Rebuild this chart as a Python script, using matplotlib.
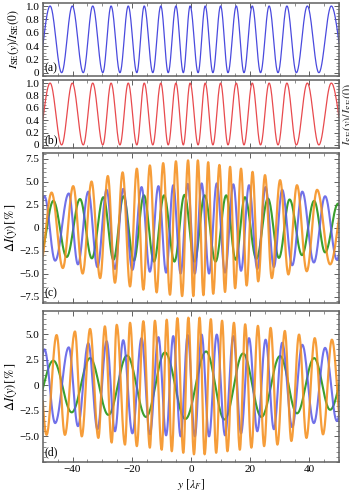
import numpy as np
import matplotlib
matplotlib.use('Agg')
import matplotlib.pyplot as plt
from matplotlib.ticker import MultipleLocator, FixedLocator

# extrema (y in units of lambda_F)
# panels (a) and (b): normalised spin-echo signal, peaks at 1 and troughs at 0
ab_trough_x = [-52.0, -43.7, -36.4, -29.8, -24.0, -18.3, -12.9, -7.7, -2.6, 2.4,
               7.4, 12.5, 17.9, 23.5, 29.4, 35.6, 43.2, 52.3]
ab_peak_x = [-47.6, -40.1, -33.2, -27.0, -21.2, -15.8, -10.2, -5.1, -0.3, 4.8,
             10.0, 15.3, 20.7, 26.4, 32.4, 39.3, 47.4]
ab_top = 1.0
ab_bottom = 0.0

# panel (c), Delta I in %
c_orange_x = [-50.8, -47.1, -43.3, -39.8, -36.6, -33.6, -30.7, -28.1, -25.7, -23.1,
              -20.6, -18.3, -16.1, -13.9, -11.6, -9.4, -7.1, -5.1, -3.0, -1.0,
              0.8, 2.3, 4.2, 5.8, 7.5, 9.6, 11.5, 13.2, 14.9, 16.9,
              18.8, 20.8, 22.7, 25.0, 27.3, 30.1, 32.9, 35.8, 39.1, 42.6, 47.0, 51.7]
c_orange_v = [-3.8, 3.8, -4.4, 4.5, -5.0, 5.0, -5.5, 5.6, -6.0, 6.0,
              -6.4, 6.4, -6.75, 6.75, -7.05, 7.0, -7.3, 7.2, -7.45, 7.3,
              -7.45, 7.3, -7.35, 7.1, -7.2, 6.8, -7.0, 6.6, -6.6, 6.4,
              -6.3, 6.05, -5.85, 5.7, -5.5, 5.15, -5.1, 4.6, -4.75, 4.1, -4.0, 3.0]
blue_x = [-53.0, -49.5, -45.9, -41.3, -38.2, -34.7, -31.6, -28.5, -25.7, -22.9,
          -19.8, -16.7, -13.9, -11.0, -8.4, -6.0, -3.5, -1.1, 1.3, 3.6,
          6.1, 8.7, 11.5, 14.3, 16.9, 19.6, 22.4, 25.2, 28.0, 30.8,
          34.2, 37.6, 41.5, 45.3, 49.3, 53.0]
c_blue_v = [-3.3, 3.4, -3.6, 3.7, -4.0, 3.9, -4.3, 4.1, -4.5, 4.2,
            -4.6, 4.4, -4.8, 4.5, -4.9, 4.6, -5.0, 4.75, -5.0, 4.8,
            -5.0, 4.8, -4.9, 4.7, -4.7, 4.6, -4.5, 4.4, -4.3, 4.1,
            -4.1, 3.9, -3.8, 3.4, -3.5, 3.2]
c_green_x = [-50.7, -46.5, -42.0, -37.5, -33.5, -29.6, -26.2, -22.8, -19.3, -15.9,
             -12.5, -9.1, -5.6, -2.2, 1.2, 4.6, 8.3, 11.9, 15.1, 18.2,
             22.1, 26.0, 29.7, 33.3, 37.5, 41.6, 45.3, 49.7, 54.0]
c_green_v = [-2.6, 2.9, -3.2, 3.1, -3.35, 3.3, -3.5, 3.4, -3.6, 3.5,
             -3.7, 3.5, -3.7, 3.55, -3.7, 3.5, -3.7, 3.5, -3.5, 3.3,
             -3.4, 3.15, -3.3, 3.05, -3.0, 2.9, -2.7, 2.6, -2.5]

# panel (d)
d_orange_x = [-52.0, -48.8, -45.4, -42.6, -39.2, -36.9, -34.1, -31.3, -29.1, -26.8,
              -25.1, -22.3, -20.6, -18.3, -16.1, -13.9, -12.2, -9.9, -8.2, -6.5,
              -4.6, -2.6, -0.9, 1.0, 2.9, 4.6, 6.7, 8.5, 10.5, 12.3,
              14.5, 16.5, 18.3, 20.4, 22.6, 24.7, 26.9, 29.2, 31.7, 33.9,
              36.5, 39.0, 41.8, 44.6, 47.6, 51.0]
d_orange_v = [4.6, -4.85, 4.9, -4.85, 5.25, -5.0, 5.5, -5.15, 5.75, -5.6,
              5.9, -5.8, 6.1, -5.95, 6.25, -6.1, 6.3, -6.3, 6.4, -6.45,
              6.55, -6.6, 6.6, -6.75, 6.6, -6.75, 6.45, -6.6, 6.3, -6.45,
              6.1, -6.3, 5.95, -6.1, 5.8, -5.95, 5.6, -5.8, 5.3, -5.45,
              4.95, -5.15, 4.6, -4.8, 4.45, -4.5]
d_blue_v = [-3.3, 3.5, -3.7, 3.7, -4.0, 4.1, -4.3, 4.3, -4.5, 4.4,
            -4.7, 4.6, -4.8, 4.7, -4.9, 4.8, -5.0, 4.9, -5.0, 4.95,
            -5.0, 4.95, -4.9, 4.8, -4.7, 4.6, -4.5, 4.45, -4.3, 4.15,
            -4.1, 3.95, -3.7, 3.65, -3.5, 3.3]
d_green_x = [-53.0, -46.5, -40.3, -34.1, -27.9, -21.6, -15.2, -8.8, -1.9, 5.1,
             11.3, 17.6, 23.8, 30.1, 35.8, 41.6, 47.0, 53.0]
d_green_v = [-2.3, 2.4, -2.65, 2.65, -2.9, 2.9, -3.1, 3.2, -3.3, 3.3,
             -3.35, 3.1, -3.1, 2.85, -2.75, 2.65, -2.4, 2.4]

ab_ticks = [0, 0.2, 0.4, 0.6, 0.8, 1.0]
ab_ticklabels = ['0', '0.2', '0.4', '0.6', '0.8', '1.0']
c_ticks = [-7.5, -5.0, -2.5, 0, 2.5, 5.0, 7.5]
c_ticklabels = ['\u22127.5', '\u22125.0', '\u22122.5', '0', '2.5', '5.0', '7.5']
d_ticks = [-5.0, -2.5, 0, 2.5, 5.0]
d_ticklabels = ['\u22125.0', '\u22122.5', '0', '2.5', '5.0']
x_ticks = [-40, -20, 0, 20, 40]
x_ticklabels = ['\u221240', '\u221220', '0', '20', '40']


def smooth_path(xe, ve, n=30):
    # half-cosine segments between consecutive extrema
    xs, ys = [], []
    for i in range(len(xe) - 1):
        t = np.linspace(0, 1, n, endpoint=False)
        xs.extend(xe[i] + (xe[i + 1] - xe[i]) * t)
        ys.extend(ve[i] + (ve[i + 1] - ve[i]) * (1 - np.cos(np.pi * t)) / 2)
    xs.append(xe[-1])
    ys.append(ve[-1])
    return np.array(xs), np.array(ys)


ab_x = []
ab_v = []
for i in range(len(ab_peak_x)):
    ab_x += [ab_trough_x[i], ab_peak_x[i]]
    ab_v += [ab_bottom, ab_top]
ab_x.append(ab_trough_x[-1])
ab_v.append(ab_bottom)

plt.rcParams['font.family'] = 'Liberation Serif'
plt.rcParams['mathtext.fontset'] = 'stix'
plt.rcParams['font.size'] = 8

fig = plt.figure(figsize=(3.49, 4.94), dpi=100)
W, H = 349.0, 494.0
left = 43 / W
width = 296 / W
ax_a = fig.add_axes([left, 1 - 76 / H, width, 73 / H])
ax_b = fig.add_axes([left, 1 - 148 / H, width, 68 / H])
ax_c = fig.add_axes([left, 1 - 303 / H, width, 150 / H])
ax_d = fig.add_axes([left, 1 - 462 / H, width, 151 / H])

frame_col = '#606060'
for ax in [ax_a, ax_b, ax_c, ax_d]:
    ax.set_xlim(-50, 50)
    ax.xaxis.set_major_locator(FixedLocator(x_ticks))
    ax.xaxis.set_minor_locator(MultipleLocator(5))
    ax.tick_params(which='both', direction='in', top=True, right=True,
                   color=frame_col, pad=2.5, labelsize=8)
    ax.tick_params(which='major', length=3.5, width=0.7)
    ax.tick_params(which='minor', length=2, width=0.5)
    for s in ax.spines.values():
        s.set_color(frame_col)
        s.set_linewidth(1.1)
    if ax is not ax_d:
        ax.set_xticklabels([])

# (a) and (b)
xs, ys = smooth_path(ab_x, ab_v)
ax_a.plot(xs, ys, color='#4a4ade', lw=0.9)
ax_b.plot(xs, ys, color='#e84a4e', lw=0.9)
for ax, lab, top in [(ax_a, '(a)', 1.045), (ax_b, '(b)', 1.05)]:
    ax.set_ylim(-0.05, top)
    ax.set_yticks(ab_ticks)
    ax.set_yticklabels(ab_ticklabels)
    ax.yaxis.set_minor_locator(MultipleLocator(0.05))
    ax.text(0.004, 0.02, lab, transform=ax.transAxes, ha='left', va='bottom', fontsize=8.5)
ax_a.set_ylabel(r'$I_{\rm SE}(y)/I_{\rm SE}(0)$', fontsize=8.5)
ax_a.yaxis.set_label_coords(-0.075, 0.5)

# (c) and (d)
orange = '#f5901e'
blue = '#5858e6'
green = '#2f9a22'
panels = [(ax_c, c_orange_x, c_orange_v, c_blue_v, c_green_x, c_green_v, '(c)'),
          (ax_d, d_orange_x, d_orange_v, d_blue_v, d_green_x, d_green_v, '(d)')]
for ax, ox, ov, bv, gx, gv, lab in panels:
    xs, ys = smooth_path(gx, gv)
    ax.plot(xs, ys, color=green, lw=1.5, alpha=0.95)
    xs, ys = smooth_path(blue_x, bv)
    ax.plot(xs, ys, color=blue, lw=1.5, alpha=0.85)
    xs, ys = smooth_path(ox, ov)
    ax.plot(xs, ys, color=orange, lw=1.6, alpha=0.88)
    ax.yaxis.set_minor_locator(MultipleLocator(0.5))
    ax.text(0.004, 0.025, lab, transform=ax.transAxes, ha='left', va='bottom', fontsize=8.5)
    ax.set_ylabel(r'$\Delta I(y)[\,\%\,]$', fontsize=9)
    ax.yaxis.set_label_coords(-0.082, 0.5)

ax_c.set_ylim(-8.2, 8.1)
ax_c.set_yticks(c_ticks)
ax_c.set_yticklabels(c_ticklabels)
ax_d.set_ylim(-7.5, 7.25)
ax_d.set_yticks(d_ticks)
ax_d.set_yticklabels(d_ticklabels)
ax_d.set_xticklabels(x_ticklabels)
ax_d.set_xlabel(r'$y\ [\lambda_F]$', fontsize=8.5, labelpad=2)

# label of a neighbouring panel, cut by the right border
fig.text(341 / W, 1 - 114 / H, r'$I_{\rm SE}(y)/I_{\rm SE}(0)$', rotation=90,
         ha='left', va='center', fontsize=9, color='#333333')

plt.savefig('out.png', dpi=100)
